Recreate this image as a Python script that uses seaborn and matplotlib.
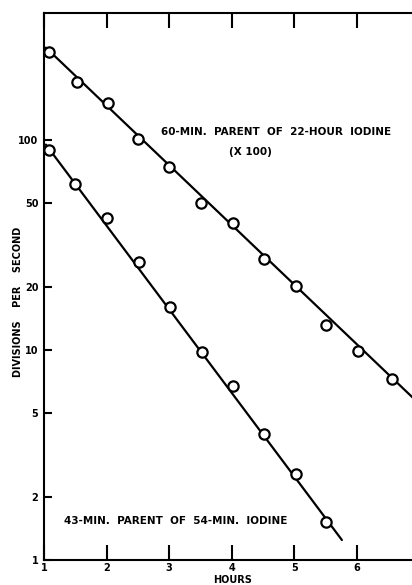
import numpy as np
import pandas as pd
import matplotlib
matplotlib.use("Agg")
import matplotlib.pyplot as plt
import seaborn as sns

# ---- data ----
upper_hours = [1.08, 1.52, 2.02, 2.5, 3.0, 3.51, 4.02, 4.51, 5.03, 5.51, 6.02, 6.56]
upper_rate = [263, 188, 150, 101, 74, 50, 40.4, 27.2, 20.1, 13.2, 9.9, 7.3]   # x 100
lower_hours = [1.08, 1.49, 2.01, 2.51, 3.01, 3.52, 4.02, 4.51, 5.03, 5.51]
lower_rate = [89.6, 61.7, 42.5, 26.2, 16.1, 9.8, 6.7, 4.0, 2.57, 1.52]
upper_fit_hours = [1.03, 6.9]
upper_fit_rate = [275, 5.9]
lower_fit_hours = [1.03, 5.76]
lower_fit_rate = [95, 1.245]
x_ticks = [1, 2, 3, 4, 5, 6]
y_ticks = [1, 2, 5, 10, 20, 50, 100]
y_ticklabels = ["1", "2", "5", "10", "20", "50", "100"]

pts = pd.DataFrame({
    "hours": upper_hours + lower_hours,
    "rate": upper_rate + lower_rate,
    "series": ["upper"] * len(upper_hours) + ["lower"] * len(lower_hours),
})
fits = pd.DataFrame({
    "hours": upper_fit_hours + lower_fit_hours,
    "rate": upper_fit_rate + lower_fit_rate,
    "series": ["upper"] * 2 + ["lower"] * 2,
})

sns.set_style("white")
plt.rcParams["font.family"] = ["DejaVu Sans"]
plt.rcParams["font.weight"] = "bold"
plt.rcParams["text.color"] = "black"
plt.rcParams["axes.labelcolor"] = "black"
plt.rcParams["xtick.color"] = "black"
plt.rcParams["ytick.color"] = "black"

W, H = 412, 585
fig = plt.figure(figsize=(W / 100, H / 100), dpi=100)
ax = fig.add_axes([44 / W, 1 - 560 / H, 1 - 44 / W, (560 - 13) / H])
ax.set_yscale("log")

sns.lineplot(data=fits, x="hours", y="rate", units="series", estimator=None,
             color="black", lw=1.6, ax=ax, legend=False)
sns.scatterplot(data=pts, x="hours", y="rate", ax=ax, legend=False,
                s=55, marker="o", facecolor="white", edgecolor="black",
                linewidth=1.6, zorder=5)

ax.set_xlim(1, 6.88)
ax.set_ylim(1, 402)

ax.set_xticks(x_ticks)
ax.set_xticklabels([str(t) for t in x_ticks], fontsize=7, fontweight="bold")
ax.set_yticks(y_ticks)
ax.set_yticklabels(y_ticklabels, fontsize=7, fontweight="bold")
ax.yaxis.set_minor_locator(matplotlib.ticker.NullLocator())
ax.xaxis.set_minor_locator(matplotlib.ticker.NullLocator())

ax.tick_params(axis="x", direction="in", length=11, width=1.5, pad=2.5,
               top=True, bottom=True, color="black", labelcolor="black")
ax.tick_params(axis="y", direction="in", length=6, width=1.5, pad=4,
               left=True, right=False, color="black", labelcolor="black")

for side in ["left", "bottom", "top"]:
    ax.spines[side].set_visible(True)
    ax.spines[side].set_color("black")
    ax.spines[side].set_linewidth(1.5)
ax.spines["right"].set_visible(False)

ax.set_xlabel("HOURS", fontsize=7, fontweight="bold", va="center")
ax.xaxis.set_label_coords((233 - 44) / 368, (560 - 580) / 547)
ax.set_ylabel("DIVISIONS    PER    SECOND", fontsize=7, fontweight="bold", va="center")
ax.yaxis.set_label_coords((18 - 44) / 368, (560 - 302) / 547)


def fig_px(x, y):
    return (x / W, 1 - y / H)


fig.text(*fig_px(276, 132), "60-MIN.  PARENT  OF  22-HOUR  IODINE",
         ha="center", va="center", fontsize=7.5, fontweight="bold")
fig.text(*fig_px(250, 152), "(X 100)",
         ha="center", va="center", fontsize=7.5, fontweight="bold")
fig.text(*fig_px(176, 521), "43-MIN.  PARENT  OF  54-MIN.  IODINE",
         ha="center", va="center", fontsize=7.5, fontweight="bold")

fig.savefig("out.png", dpi=100)
